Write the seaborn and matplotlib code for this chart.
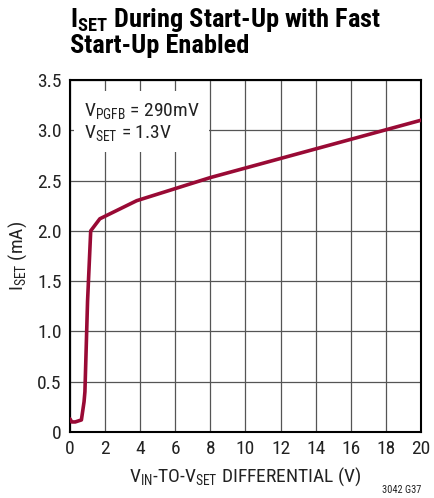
import matplotlib
matplotlib.use("Agg")
import matplotlib.pyplot as plt
from matplotlib import font_manager
import seaborn as sns
import pandas as pd

# I_SET versus input-to-set differential voltage
v_diff = [0.0, 0.1, 0.3, 0.65, 0.8, 0.85, 1.0, 1.18, 1.7, 3.8, 8.0, 20.0]
i_set = [0.13, 0.10, 0.10, 0.12, 0.30, 0.40, 1.30, 2.00, 2.12, 2.30, 2.53, 3.10]

x_ticks = [0, 2, 4, 6, 8, 10, 12, 14, 16, 18, 20]
y_ticks = [0, 0.5, 1.0, 1.5, 2.0, 2.5, 3.0, 3.5]
y_labels = ["0", "0.5", "1.0", "1.5", "2.0", "2.5", "3.0", "3.5"]

df = pd.DataFrame({"v": v_diff, "i": i_set})

sns.set_theme(style="white")
names = {f.name for f in font_manager.fontManager.ttflist}
narrow = "Roboto Condensed" if "Roboto Condensed" in names else "DejaVu Sans"
plt.rcParams["font.family"] = [narrow, "DejaVu Sans"]
plt.rcParams["mathtext.fontset"] = "custom"
plt.rcParams["mathtext.rm"] = narrow
plt.rcParams["mathtext.it"] = narrow
plt.rcParams["mathtext.bf"] = narrow + ":bold"

fig = plt.figure(figsize=(4.35, 4.98), dpi=100)
ax = fig.add_axes([70 / 435, 1 - 432 / 498, 351 / 435, 352 / 498])

sns.lineplot(data=df, x="v", y="i", ax=ax, color="#990a35", lw=2.6,
             zorder=3, solid_joinstyle="round")

ax.set_xlim(0, 20)
ax.set_ylim(0, 3.5)
ax.set_xticks(x_ticks)
ax.set_yticks(y_ticks)
ax.set_yticklabels(y_labels)
ax.grid(True, color="#555555", lw=0.9)
for s in ax.spines.values():
    s.set_color("black")
    s.set_linewidth(1.5)
ax.tick_params(axis="both", labelsize=14, colors="#222222", length=0, pad=6)

ax.set_xlabel(r"V$_{\mathregular{IN}}$-TO-V$_{\mathregular{SET}}$ DIFFERENTIAL (V)",
              fontsize=14, color="#222222", labelpad=5)
ax.set_ylabel(r"I$_{\mathregular{SET}}$ (mA)", fontsize=14, color="#222222", labelpad=6)

ax.text(0.04, 0.94,
        "V$_{\\mathregular{PGFB}}$ = 290mV\nV$_{\\mathregular{SET}}$ = 1.3V",
        transform=ax.transAxes, ha="left", va="top", fontsize=14,
        color="#222222", linespacing=1.1, zorder=4,
        bbox=dict(facecolor="white", edgecolor="none", pad=7))

fig.text(70 / 435, 1 - 6 / 498,
         "I$_{\\mathbf{SET}}$ During Start-Up with Fast\nStart-Up Enabled",
         ha="left", va="top", fontsize=19, fontweight="bold", color="black",
         linespacing=1.0)

fig.text(421 / 435, 1 - 495 / 498, "3042 G37", ha="right", va="bottom",
         fontsize=7.5, color="#222222")

fig.savefig("out.png", dpi=100)
